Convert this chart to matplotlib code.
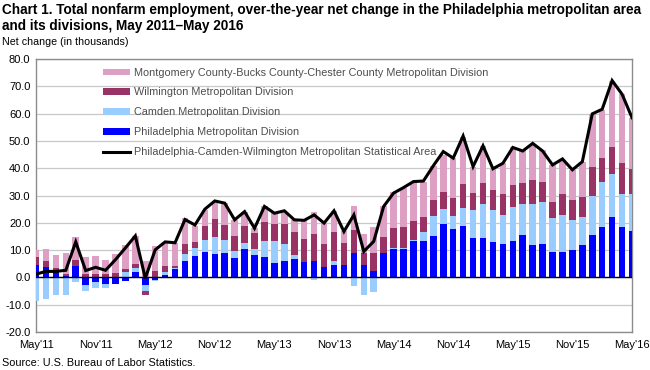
import numpy as np
import matplotlib
matplotlib.use("Agg")
import matplotlib.pyplot as plt
from matplotlib.patches import Patch
from matplotlib.lines import Line2D
from matplotlib import font_manager

# ---------------- data (thousands) ----------------
tick_labels = ["May'11", "Nov'11", "May'12", "Nov'12", "May'13", "Nov'13",
               "May'14", "Nov'14", "May'15", "Nov'15", "May'16"]

philadelphia = [4.4, 3.7, 1.8, 0.4, 4.3, -2.7, -1.8, -2.3, -2.3, -1.5,
                2.1, -2.7, -0.9, 0.7, 2.9, 6.1, 7.7, 9.3, 8.7, 9.1,
                7.1, 10.5, 8.3, 7.4, 5.2, 6.1, 6.8, 5.6, 6.1, 3.8,
                4.4, 4.4, 9.1, 4.4, 2.2, 8.8, 10.4, 10.4, 13.2, 13.4,
                15.0, 19.6, 17.8, 18.7, 14.6, 14.3, 12.9, 12.3, 13.4, 15.4,
                11.7, 12.3, 9.4, 9.4, 10.1, 12.0, 15.4, 18.4, 22.3, 18.3, 17.1]

camden = [-8.8, -7.9, -6.3, -6.6, -1.7, -2.2, -2.1, -1.4, 0.0, 2.0,
          1.2, -2.2, -0.6, 1.3, 0.5, 2.6, 3.0, 4.5, 6.1, 4.6,
          2.4, 2.1, 2.2, 6.0, 8.0, 6.2, 1.5, 0.0, -1.1, 0.0,
          1.5, 0.0, -3.0, -6.3, -5.4, 0.0, 0.2, 0.3, 0.6, 3.1,
          7.6, 5.4, 4.8, 6.7, 10.2, 12.7, 11.9, 10.4, 12.3, 11.4,
          15.3, 15.5, 12.3, 13.5, 11.0, 10.0, 14.6, 16.5, 15.5, 12.3, 13.5]

wilmington = [3.0, 2.2, 1.7, 0.9, 2.2, 1.3, 1.3, 1.2, 1.6, 1.0,
              1.5, -1.7, 2.2, 2.3, 0.8, 3.6, 2.1, 5.2, 6.7, 5.6,
              5.7, 6.4, 5.7, 6.8, 6.3, 7.2, 8.2, 8.4, 9.9, 8.5,
              10.6, 8.2, 8.3, 4.7, 6.9, 6.0, 7.4, 7.6, 6.7, 5.5,
              5.6, 6.1, 6.4, 8.9, 6.1, 7.5, 7.3, 7.8, 8.0, 7.7,
              8.7, 7.0, 5.9, 7.6, 7.1, 7.6, 10.6, 9.0, 9.8, 11.2, 9.2]

montgomery = [2.7, 4.5, 4.7, 7.6, 8.3, 6.1, 6.6, 5.3, 7.1, 9.0,
              10.4, 6.1, 9.4, 8.5, 8.5, 9.4, 6.2, 5.8, 6.1, 7.9,
              5.9, 5.0, 2.0, 5.8, 4.0, 4.6, 4.6, 6.9, 8.1, 7.6,
              8.0, 4.5, 8.6, 6.7, 9.5, 11.4, 13.2, 14.4, 14.6, 13.1,
              12.7, 13.8, 14.7, 17.3, 9.7, 13.7, 7.7, 11.3, 14.2, 12.2,
              13.1, 11.9, 13.6, 12.5, 11.2, 12.8, 19.3, 17.4, 24.5, 25.3, 18.7]

msa_total = [1.2, 2.2, 2.2, 2.6, 13.0, 2.5, 3.7, 2.6, 6.5, 10.8,
             15.2, -0.3, 10.1, 13.0, 12.7, 21.2, 19.2, 25.0, 28.0, 27.2,
             21.1, 24.1, 18.0, 26.0, 23.5, 24.4, 21.1, 20.9, 22.9, 19.9,
             24.4, 16.8, 22.9, 9.5, 13.2, 26.0, 30.9, 32.9, 35.1, 35.3,
             40.9, 46.1, 43.7, 51.8, 40.6, 48.2, 39.8, 41.8, 47.6, 46.3,
             49.1, 46.3, 41.2, 43.4, 39.4, 42.4, 59.9, 61.6, 72.1, 67.1, 58.5]

series_names = ["Philadelphia Metropolitan Division",
                "Camden Metropolitan Division",
                "Wilmington Metropolitan Division",
                "Montgomery County-Bucks County-Chester County Metropolitan Division"]
line_name = "Philadelphia-Camden-Wilmington Metropolitan Statistical Area"

# ---------------- style ----------------
def pick(fams):
    for f in fams:
        try:
            font_manager.findfont(f, fallback_to_default=False)
            return f
        except Exception:
            pass
    return "DejaVu Sans"

body_font = pick(["Liberation Sans", "Arial"])
plt.rcParams["font.family"] = [body_font, "DejaVu Sans"]

colors = ["#0000FF", "#99CCFF", "#993366", "#DDA0C4"]
text_gray = "#4D4D4D"

fig = plt.figure(figsize=(6.5, 3.7), dpi=100)
ax = fig.add_axes([36/650, 1-332/370, (632-36)/650, (332-59)/370])

x = np.arange(len(msa_total))
pos_bottom = np.zeros(len(x))
neg_bottom = np.zeros(len(x))
bar_w = 0.66
for vals, col in zip([philadelphia, camden, wilmington, montgomery], colors):
    v = np.array(vals, dtype=float)
    bottom = np.where(v >= 0, pos_bottom, neg_bottom)
    ax.bar(x, v, bottom=bottom, width=bar_w, color=col, linewidth=0, zorder=3)
    pos_bottom = pos_bottom + np.where(v > 0, v, 0)
    neg_bottom = neg_bottom + np.where(v < 0, v, 0)

ax.plot(x, msa_total, color="black", linewidth=2.2, zorder=5,
        solid_joinstyle="miter")

ax.set_xlim(0, len(x) - 1)
ax.set_ylim(-20, 80)
ax.set_yticks(np.arange(-20, 81, 10))
ax.set_yticklabels([f"{v:.1f}" for v in np.arange(-20, 81, 10)])
ax.set_xticks(np.arange(0, len(x), 6))
ax.set_xticklabels(tick_labels)
ax.tick_params(axis="both", length=0, labelsize=8.0, colors="black")
ax.tick_params(axis="x", pad=5.5)
ax.tick_params(axis="y", pad=4)

ax.grid(axis="y", color="#C8C8C8", linewidth=0.9, zorder=0)
ax.set_axisbelow(True)
ax.axhline(0, color="black", linewidth=1.0, zorder=4)
for s in ax.spines.values():
    s.set_color("#8C8C8C")
    s.set_linewidth(1.0)

handles = [Patch(facecolor=colors[3], linewidth=0),
           Patch(facecolor=colors[2], linewidth=0),
           Patch(facecolor=colors[1], linewidth=0),
           Patch(facecolor=colors[0], linewidth=0),
           Line2D([0], [0], color="black", linewidth=2.2)]
labels = [series_names[3], series_names[2], series_names[1], series_names[0], line_name]
leg = fig.legend(handles, labels, loc="upper left",
                 bbox_to_anchor=(103/650, 1-67.5/370), bbox_transform=fig.transFigure,
                 frameon=False, fontsize=7.8, handlelength=2.45, handleheight=0.52,
                 handletextpad=0.42, labelspacing=0.92, borderpad=0, borderaxespad=0)
for t in leg.get_texts():
    t.set_color(text_gray)

fig.text(2/650, 1-3/370,
         "Chart 1. Total nonfarm employment, over-the-year net change in the Philadelphia metropolitan area\n"
         "and its divisions, May 2011\u2013May 2016",
         ha="left", va="top", fontsize=9.8, fontweight="bold", linespacing=1.2)
fig.text(2/650, 1-37/370, "Net change (in thousands)", ha="left", va="top",
         fontsize=7.7, color="black")
fig.text(2/650, 1-358/370, "Source: U.S. Bureau of Labor Statistics.", ha="left", va="top",
         fontsize=7.8, color="black")

fig.savefig("out.png", dpi=100)
